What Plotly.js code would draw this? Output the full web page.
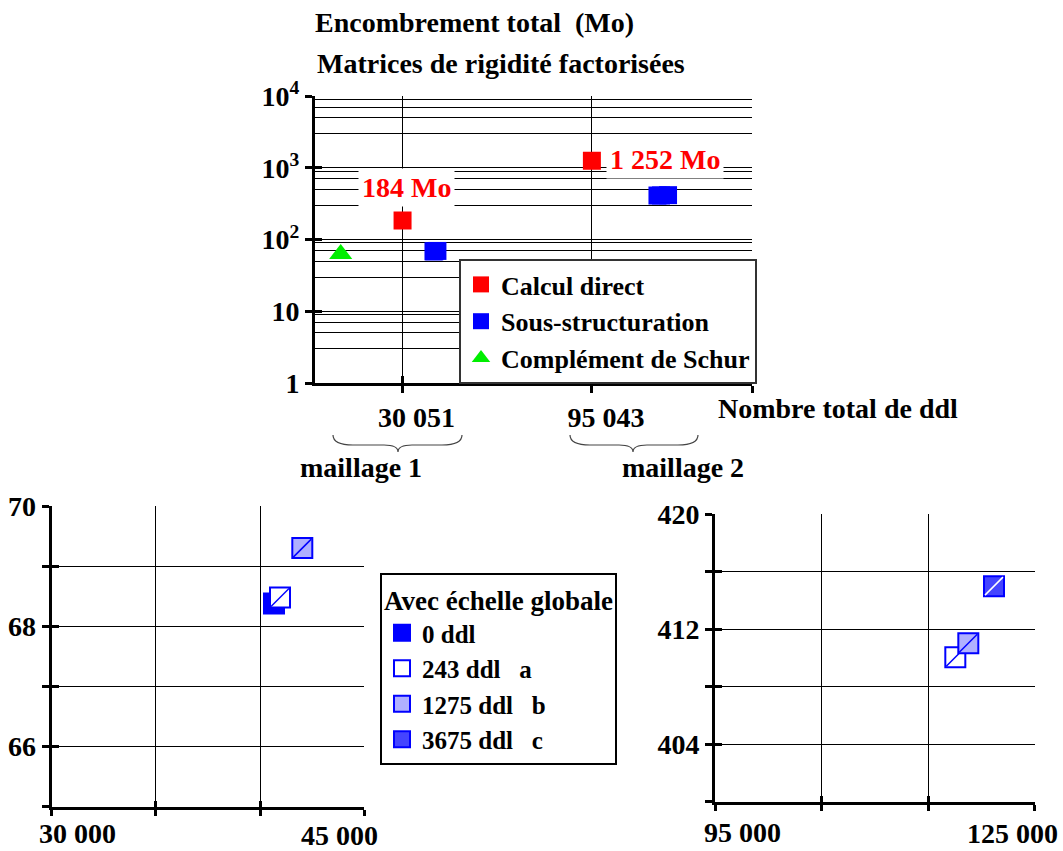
<!DOCTYPE html>
<html><head><meta charset="utf-8">
<script src="https://cdn.plot.ly/plotly-3.0.1.min.js"></script>
<style>html,body{margin:0;padding:0;background:#fff}#chart{width:1063px;height:851px}</style>
</head><body><div id="chart"></div>
<script>
// ---- data (top chart: total storage, Mo, vs total number of dof) ----
const directX = [30051, 95043];
const directY = [184, 1252];
const directLabels = ['184 Mo', '1 252 Mo'];
const schurX = [8820];
const schurY = [63];
// Sous-structuration, detail per interface-dof count
const m1Names = ['0 ddl', '243 ddl', '1275 ddl'];
const m1X = [40667, 40955, 42025];
const m1Y = [68.38, 68.48, 69.30];
const m2Names = ['243 ddl', '1275 ddl', '3675 ddl'];
const m2X = [117550, 118770, 121180];
const m2Y = [410.05, 411.03, 415.0];
const ddlNames = ['0 ddl', '243 ddl', '1275 ddl', '3675 ddl'];
const ddlLetters = ['', 'a', 'b', 'c'];
// ticks
const topXTicks = [30051, 95043];
const topXTickText = ['30 051', '95 043'];
const topYTicks = [1, 10, 100, 1000, 10000];
const topYTickText = ['1', '10', '10<sup>2</sup>', '10<sup>3</sup>', '10<sup>4</sup>'];
const blXTicks = [30000, 35000, 40000, 45000];
const blYTicks = [66, 68, 70];
const blYMinor = [65, 67, 69];
const brXTicks = [95000, 105000, 115000, 125000];
const brYTicks = [404, 412, 420];
const brYMinor = [400, 408, 416];

// ---- helpers ----
const W = 1063, H = 851;
const px = v => v / W;
const py = v => 1 - v / H;
const FONT = 'Liberation Serif, Times New Roman, serif';
const BLACK = '#000';
const f = (size, color) => ({family: FONT, size: size, color: color || BLACK, weight: 'bold'});

const minorVals = [];
[1, 10, 100, 1000].forEach(d => [3, 5, 7, 9].forEach(m => minorVals.push(d * m)));

function axisBase(extra) {
  return Object.assign({
    showline: true, linecolor: BLACK, linewidth: 3,
    ticks: 'outside', ticklen: 7, tickwidth: 3, tickcolor: BLACK,
    showgrid: true, gridcolor: BLACK, gridwidth: 1, zeroline: false,
    tickmode: 'array', fixedrange: true, tickfont: f(28)
  }, extra);
}
function overlayAxis(extra) {
  return Object.assign({
    showline: false, showgrid: false, zeroline: false, showticklabels: false,
    ticks: 'inside', ticklen: 7, tickwidth: 3, tickcolor: BLACK,
    tickmode: 'array', fixedrange: true
  }, extra);
}
function minorGrid(vals, len) {
  return {tickmode: 'array', tickvals: vals, ticks: 'outside', ticklen: len || 7, tickwidth: 3,
          tickcolor: BLACK, showgrid: true, gridcolor: BLACK, gridwidth: 1};
}

// ---- traces ----
const traces = [];
traces.push({type: 'scatter', mode: 'markers', name: 'Calcul direct', x: directX, y: directY,
  xaxis: 'x', yaxis: 'y', legend: 'legend',
  marker: {symbol: 'square', size: 18, color: '#ff0000'}});
traces.push({type: 'scatter', mode: 'markers', name: 'Sous-structuration',
  x: m1X.concat(m2X), y: m1Y.concat(m2Y),
  xaxis: 'x', yaxis: 'y', legend: 'legend',
  marker: {symbol: 'square', size: 18, color: '#0000ff'}});
traces.push({type: 'scatter', mode: 'markers', name: 'Complément de Schur', x: schurX, y: schurY,
  xaxis: 'x', yaxis: 'y', legend: 'legend',
  marker: {symbol: 'triangle-up', size: 20, color: '#00ee00'}});

const ddlStyle = {
  '0 ddl': {fill: '#0000ff', diag: null},
  '243 ddl': {fill: '#ffffff', diag: '#0000ff'},
  '1275 ddl': {fill: '#b0b0ff', diag: '#0000ff'},
  '3675 ddl': {fill: '#4444ff', diag: '#ffffff'}
};
const groups = [
  {names: m1Names, x: m1X, y: m1Y, xa: 'x2', ya: 'y2'},
  {names: m2Names, x: m2X, y: m2Y, xa: 'x3', ya: 'y3'}
];
ddlNames.forEach((nm, k) => {
  let shown = false;
  const st = ddlStyle[nm];
  groups.forEach(g => {
    const idx = g.names.indexOf(nm);
    if (idx < 0) return;
    traces.push({type: 'scatter', mode: 'markers',
      name: nm + (ddlLetters[k] ? '\u00a0\u00a0\u00a0' + ddlLetters[k] : ''),
      legend: 'legend2', legendgroup: nm, showlegend: !shown,
      x: [g.x[idx]], y: [g.y[idx]], xaxis: g.xa, yaxis: g.ya,
      marker: {symbol: 'square', size: 20, color: st.fill, line: {color: '#0000ff', width: 2}}});
    shown = true;
    if (st.diag) {
      traces.push({type: 'scatter', mode: 'markers', name: nm, legend: 'legend2', legendgroup: nm,
        showlegend: false, hoverinfo: 'skip',
        x: [g.x[idx]], y: [g.y[idx]], xaxis: g.xa, yaxis: g.ya,
        marker: {symbol: 'line-ne', size: 18, color: st.diag, line: {color: st.diag, width: 1.5}}});
    }
  });
});
// empty traces that register the overlay axes (used only for the inner half of the crossing ticks)
[['x4', 'y'], ['x', 'y4'], ['x5', 'y2'], ['x2', 'y5'], ['x6', 'y3'], ['x3', 'y6']].forEach(p => {
  traces.push({type: 'scatter', mode: 'markers', x: [null], y: [null], xaxis: p[0], yaxis: p[1],
    showlegend: false, hoverinfo: 'skip'});
});

// ---- braces under the top x axis ----
function brace(L, R, tip) {
  const top = 435, mid = 445, bot = 452;
  const P = (x, y) => px(x) + ',' + py(y);
  return 'M' + P(L, top) + ' C' + P(L, mid - 3) + ' ' + P(L + 6, mid) + ' ' + P(L + 20, mid) +
    ' L' + P(tip - 14, mid) + ' C' + P(tip - 5, mid) + ' ' + P(tip, mid + 2) + ' ' + P(tip, bot) +
    ' C' + P(tip, mid + 2) + ' ' + P(tip + 5, mid) + ' ' + P(tip + 14, mid) +
    ' L' + P(R - 20, mid) + ' C' + P(R - 6, mid) + ' ' + P(R, mid - 3) + ' ' + P(R, top);
}

const annotations = [
  {text: 'Matrices de rigidité factorisées', xref: 'paper', yref: 'paper', x: px(315), y: py(63),
   xanchor: 'left', yanchor: 'middle', showarrow: false, font: f(28)},
  {text: 'Nombre total de ddl', xref: 'paper', yref: 'paper', x: px(838), y: py(408),
   xanchor: 'center', yanchor: 'middle', showarrow: false, font: f(28)},
  {text: 'maillage 1', xref: 'paper', yref: 'paper', x: px(361), y: py(467),
   xanchor: 'center', yanchor: 'middle', showarrow: false, font: f(28)},
  {text: 'maillage 2', xref: 'paper', yref: 'paper', x: px(683), y: py(467),
   xanchor: 'center', yanchor: 'middle', showarrow: false, font: f(28)},
  {text: directLabels[0], xref: 'x', yref: 'y', x: directX[0], y: Math.log10(directY[0]),
   xshift: 4, yshift: 33, showarrow: false, bgcolor: '#fff', borderpad: 3, font: f(28, '#ff0000')},
  {text: directLabels[1], xref: 'x', yref: 'y', x: directX[1], y: Math.log10(directY[1]),
   xanchor: 'left', xshift: 14, yshift: 1, showarrow: false, bgcolor: '#fff', borderpad: 3, font: f(28, '#ff0000')},
  {text: '30 000', xref: 'x2', yref: 'paper', x: blXTicks[0], y: py(833), xshift: 26,
   yanchor: 'middle', showarrow: false, font: f(28)},
  {text: '45 000', xref: 'x2', yref: 'paper', x: blXTicks[3], y: py(835), xshift: -25,
   yanchor: 'middle', showarrow: false, font: f(28)},
  {text: '95 000', xref: 'x3', yref: 'paper', x: brXTicks[0], y: py(832), xshift: 27,
   yanchor: 'middle', showarrow: false, font: f(28)},
  {text: '125 000', xref: 'x3', yref: 'paper', x: brXTicks[3], y: py(833), xshift: -22,
   yanchor: 'middle', showarrow: false, font: f(28)}
];

const layout = {
  width: W, height: H, margin: {l: 0, r: 0, t: 0, b: 0},
  paper_bgcolor: '#fff', plot_bgcolor: '#fff',
  font: f(28), showlegend: true, hovermode: 'closest',
  title: {text: 'Encombrement total\u00a0 (Mo)', xref: 'paper', yref: 'paper', x: px(315), xanchor: 'left',
          y: py(22), yanchor: 'middle', font: f(28)},
  xaxis: axisBase({domain: [px(315), px(752)], anchor: 'y', range: [0, 150000],
    tickvals: topXTicks, ticktext: topXTickText, ticklabelshift: 14,
    minor: {tickmode: 'array', tickvals: [150000], ticks: 'outside', ticklen: 7, tickwidth: 3,
            tickcolor: BLACK, showgrid: false}}),
  yaxis: axisBase({domain: [py(383), py(96)], anchor: 'x', type: 'log', range: [0, 4],
    tickvals: topYTicks, ticktext: topYTickText,
    minor: {tickmode: 'array', tickvals: minorVals, ticks: '', showgrid: true, gridcolor: BLACK, gridwidth: 1}}),
  xaxis4: overlayAxis({overlaying: 'x', anchor: 'y', side: 'bottom', range: [0, 150000],
    tickvals: topXTicks.concat([150000])}),
  yaxis4: overlayAxis({overlaying: 'y', anchor: 'x', side: 'left', type: 'log', range: [0, 4],
    tickvals: topYTicks}),

  xaxis2: axisBase({domain: [px(51.7), px(364.3)], anchor: 'y2', range: [30000, 45000],
    tickvals: blXTicks, showticklabels: false, ticklen: 6}),
  yaxis2: axisBase({domain: [py(806.7), py(506)], anchor: 'x2', range: [65, 70],
    tickvals: blYTicks, minor: minorGrid(blYMinor)}),
  xaxis5: overlayAxis({overlaying: 'x2', anchor: 'y2', side: 'bottom', range: [30000, 45000],
    tickvals: blXTicks, ticklen: 6}),
  yaxis5: overlayAxis({overlaying: 'y2', anchor: 'x2', side: 'left', range: [65, 70],
    tickvals: blYTicks.concat(blYMinor)}),

  xaxis3: axisBase({domain: [px(715), px(1034.7)], anchor: 'y3', range: [95000, 125000],
    tickvals: brXTicks, showticklabels: false, ticklen: 6}),
  yaxis3: axisBase({domain: [py(801.7), py(514.3)], anchor: 'x3', range: [400, 420],
    tickvals: brYTicks, minor: minorGrid(brYMinor)}),
  xaxis6: overlayAxis({overlaying: 'x3', anchor: 'y3', side: 'bottom', range: [95000, 125000],
    tickvals: brXTicks, ticklen: 6}),
  yaxis6: overlayAxis({overlaying: 'y3', anchor: 'x3', side: 'left', range: [400, 420],
    tickvals: brYTicks.concat(brYMinor)}),

  legend: {x: px(459), y: py(259), xref: 'paper', yref: 'paper', xanchor: 'left', yanchor: 'top',
    bgcolor: '#fff', bordercolor: '#333', borderwidth: 2, font: f(26), itemwidth: 30},
  legend2: {x: px(380), y: py(573), xref: 'paper', yref: 'paper', xanchor: 'left', yanchor: 'top',
    bgcolor: '#fff', bordercolor: BLACK, borderwidth: 2, font: f(25), itemwidth: 30, tracegroupgap: 0,
    title: {text: 'Avec échelle globale', side: 'top center', font: f(27)}},

  annotations: annotations,
  shapes: [
    {type: 'path', xref: 'paper', yref: 'paper', path: brace(333, 462, 398), line: {color: '#444', width: 1.2}},
    {type: 'path', xref: 'paper', yref: 'paper', path: brace(570, 698, 633), line: {color: '#444', width: 1.2}}
  ]
};

Plotly.newPlot('chart', traces, layout, {displayModeBar: false});
</script>
</body></html>
